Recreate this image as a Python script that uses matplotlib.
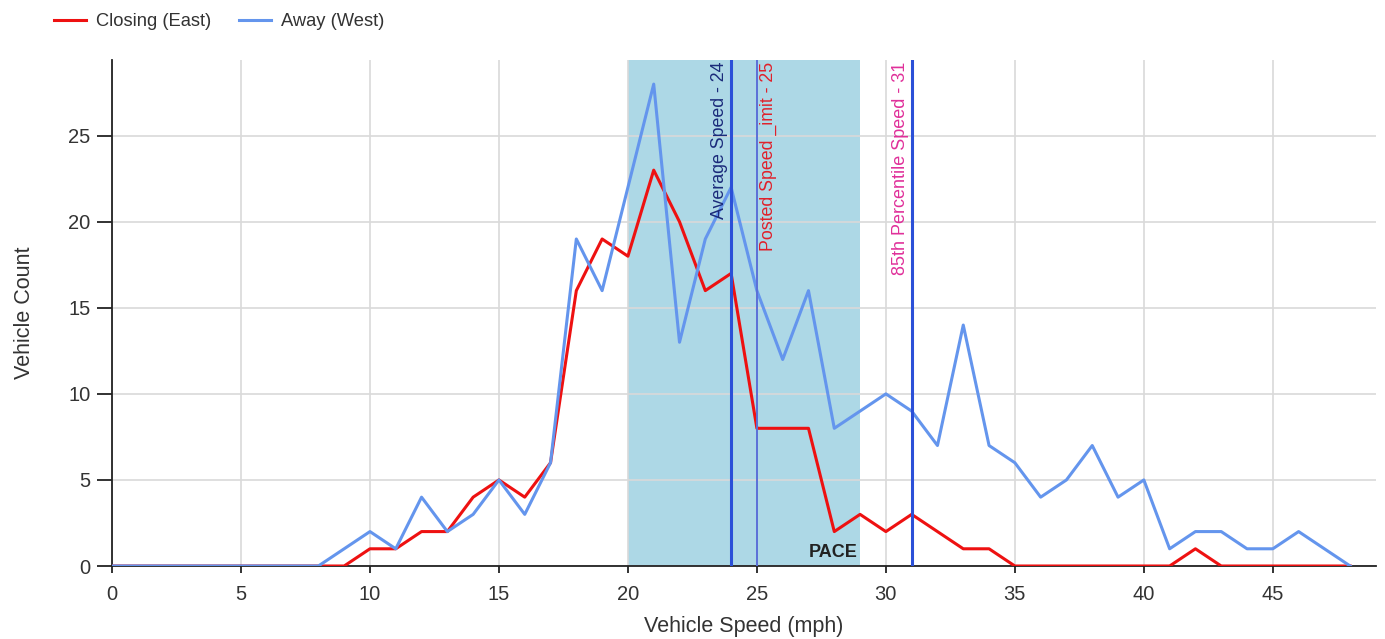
import matplotlib
matplotlib.use("Agg")
import matplotlib.pyplot as plt

speeds = list(range(0, 49))
closing_east = [0, 0, 0, 0, 0, 0, 0, 0, 0, 0, 1, 1, 2, 2, 4, 5, 4, 6, 16, 19,
                18, 23, 20, 16, 17, 8, 8, 8, 2, 3, 2, 3, 2, 1, 1, 0, 0, 0, 0, 0,
                0, 0, 1, 0, 0, 0, 0, 0, 0]
away_west = [0, 0, 0, 0, 0, 0, 0, 0, 0, 1, 2, 1, 4, 2, 3, 5, 3, 6, 19, 16,
             22, 28, 13, 19, 22, 16, 12, 16, 8, 9, 10, 9, 7, 14, 7, 6, 4, 5, 7, 4,
             5, 1, 2, 2, 1, 1, 2, 1, 0]
series_names = ["Closing (East)", "Away (West)"]
pace_range = (20, 29)
avg_speed = 24
posted_limit = 25
pct85_speed = 31
x_ticks = [0, 5, 10, 15, 20, 25, 30, 35, 40, 45]
y_ticks = [0, 5, 10, 15, 20, 25]

plt.rcParams['font.family'] = ['Liberation Sans', 'DejaVu Sans']
txt = '#333333'

fig = plt.figure(figsize=(13.85, 6.39), dpi=100)
ax = fig.add_axes([112/1385, 1-566/639, (1376-112)/1385, (566-60)/639])

ax.set_xlim(0, 49)
ax.set_ylim(0, 29.4)

ax.axvspan(pace_range[0], pace_range[1], color='#ADD8E6', zorder=0.5, lw=0)
ax.set_xticks(x_ticks)
ax.set_yticks(y_ticks)
ax.grid(True, color='#d9d9d9', lw=1.2, zorder=0.4)
ax.set_axisbelow(True)

ax.plot(speeds, closing_east, color='#ee1111', lw=2.2, label=series_names[0], zorder=3)
ax.plot(speeds, away_west, color='#6495ED', lw=2.2, label=series_names[1], zorder=3)

ax.axvline(avg_speed, color='#2b50d8', lw=2.2, zorder=4)
ax.axvline(posted_limit, color='#5a70d8', lw=1.4, zorder=4)
ax.axvline(pct85_speed, color='#2b50d8', lw=2.2, zorder=4)

top = 29.3
ax.text(avg_speed - 0.12, top, "Average Speed - 24", rotation=90, ha='right', va='top',
        color='#1a2a7a', fontsize=12.8, zorder=5)
ax.text(posted_limit + 0.12, top, "Posted Speed _imit - 25", rotation=90, ha='left', va='top',
        color='#e0202a', fontsize=12.8, zorder=5)
ax.text(pct85_speed - 0.12, top, "85th Percentile Speed - 31", rotation=90, ha='right', va='top',
        color='#e0309a', fontsize=13.0, zorder=5)
ax.text(pace_range[1] - 0.1, 0.3, "PACE", ha='right', va='bottom', fontsize=13,
        fontweight='bold', color='#222222', zorder=5)

for s in ['top', 'right']:
    ax.spines[s].set_visible(False)
ax.spines['left'].set_color('#222222')
ax.spines['bottom'].set_color('#222222')
ax.spines['left'].set_linewidth(1.3)
ax.spines['bottom'].set_linewidth(1.3)
ax.tick_params(axis='both', labelsize=14.5, labelcolor=txt, color='#222222', width=1.3)
ax.tick_params(axis='x', length=5, pad=8.5)
ax.tick_params(axis='y', length=11, pad=4.5)

ax.set_xlabel("Vehicle Speed (mph)", fontsize=15.5, color=txt, labelpad=8.5)
ax.set_ylabel("Vehicle Count", fontsize=15.5, color=txt, labelpad=24)

fig.legend(loc='upper left', bbox_to_anchor=(0.027, 1.005), ncol=2, frameon=False,
           fontsize=13.2, handlelength=1.75, columnspacing=1.5, handletextpad=0.55,
           labelcolor=txt)

fig.savefig("out.png", dpi=100)
